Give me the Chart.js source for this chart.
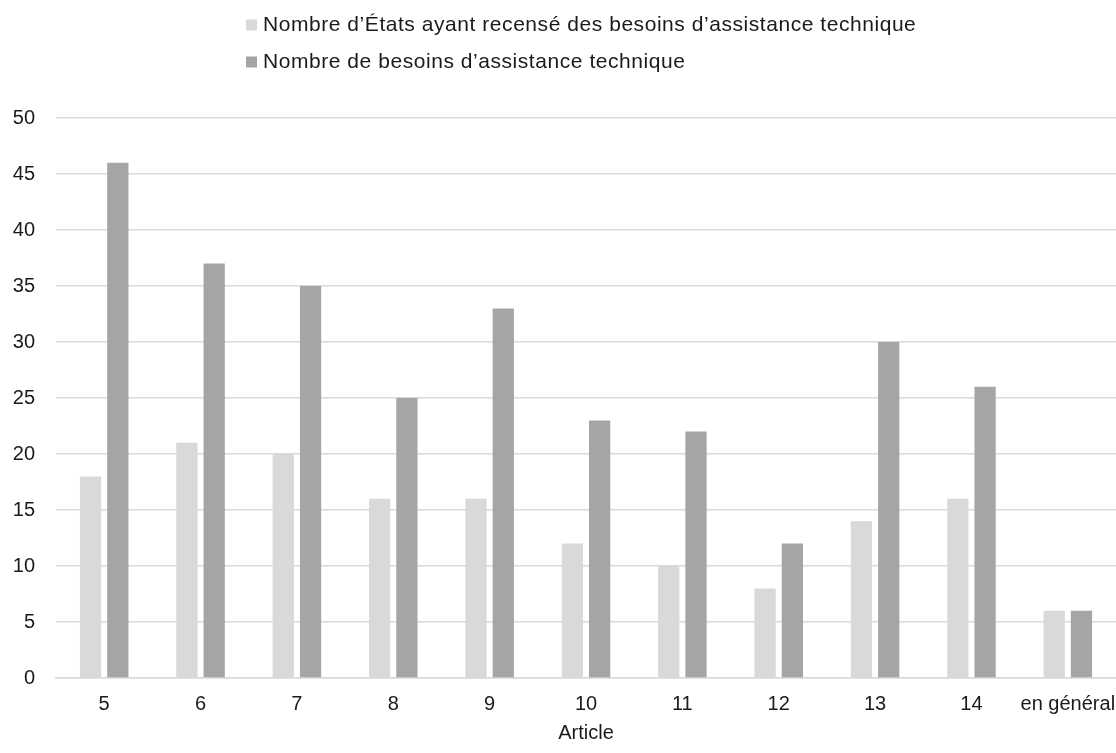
<!DOCTYPE html>
<html lang="fr">
<head>
<meta charset="utf-8">
<title>Besoins d’assistance technique par article</title>
<script src="https://cdn.jsdelivr.net/npm/chart.js@4/dist/chart.umd.min.js"></script>
<style>
  html, body { margin: 0; padding: 0; background: #ffffff; overflow: hidden; }
  #wrap { position: relative; width: 1116px; height: 753px; }
</style>
</head>
<body>
<div id="wrap"><canvas id="chart" width="1116" height="753"></canvas></div>
<script>
// Articles (x categories)
const articles = ['5', '6', '7', '8', '9', '10', '11', '12', '13', '14', 'en général'];

// Series values
const etatsAvecBesoins = [18, 21, 20, 16, 16, 12, 10, 8, 14, 16, 6];
const nombreBesoins = [46, 37, 35, 25, 33, 23, 22, 12, 30, 26, 6];

// Series names
const seriesLabels = [
  'Nombre d’États ayant recensé des besoins d’assistance technique',
  'Nombre de besoins d’assistance technique'
];

// Y axis ticks
const yTicks = [0, 5, 10, 15, 20, 25, 30, 35, 40, 45, 50];

const FONT = '"Liberation Sans", Arial, sans-serif';
const TEXT = '#1a1a1a';
const GRID = '#d9d9d9';

// Legend stacked in a single left-aligned column above the plot
const stackedLegend = {
  id: 'stackedLegend',
  afterDraw(chart) {
    const ctx = chart.ctx;
    const rows = [25, 62];
    ctx.save();
    ctx.font = '21px ' + FONT;
    if ('letterSpacing' in ctx) ctx.letterSpacing = '0.55px';
    ctx.textBaseline = 'middle';
    ctx.textAlign = 'left';
    chart.data.datasets.forEach((ds, i) => {
      const y = rows[i];
      ctx.fillStyle = ds.backgroundColor;
      ctx.fillRect(246, y - 5.5, 11, 11);
      ctx.fillStyle = TEXT;
      ctx.fillText(ds.label, 263, y);
    });
    ctx.restore();
  }
};

new Chart(document.getElementById('chart'), {
  type: 'bar',
  data: {
    labels: articles,
    datasets: [
      {
        label: seriesLabels[0],
        data: etatsAvecBesoins,
        backgroundColor: '#d9d9d9',
        categoryPercentage: 0.566,
        barPercentage: 0.78
      },
      {
        label: seriesLabels[1],
        data: nombreBesoins,
        backgroundColor: '#a5a5a5',
        categoryPercentage: 0.566,
        barPercentage: 0.78
      }
    ]
  },
  options: {
    responsive: false,
    animation: false,
    layout: { padding: { top: 118, left: 0, right: 0, bottom: 0 } },
    plugins: {
      legend: { display: false },
      tooltip: { enabled: false }
    },
    scales: {
      x: {
        grid: { display: false, drawTicks: false },
        border: { display: true, color: GRID, width: 1.5 },
        ticks: {
          color: TEXT,
          font: { family: FONT, size: 20 },
          padding: 14,
          maxRotation: 0,
          autoSkip: false
        },
        title: {
          display: true,
          text: 'Article',
          color: TEXT,
          font: { family: FONT, size: 20 },
          padding: { top: 0, bottom: 8 }
        },
        afterFit(scale) {
          scale.height = 75;
          // let the plot run to the right edge of the canvas
          scale.paddingLeft = 0;
          scale.paddingRight = 0;
        }
      },
      y: {
        min: 0,
        max: 50,
        afterBuildTicks(scale) { scale.ticks = yTicks.map(v => ({ value: v })); },
        grid: { color: GRID, lineWidth: 1.5, drawTicks: false },
        border: { display: false },
        ticks: {
          color: TEXT,
          font: { family: FONT, size: 20 },
          padding: 21
        },
        afterFit(scale) { scale.width = 56; }
      }
    }
  },
  plugins: [stackedLegend]
});
</script>
</body>
</html>
